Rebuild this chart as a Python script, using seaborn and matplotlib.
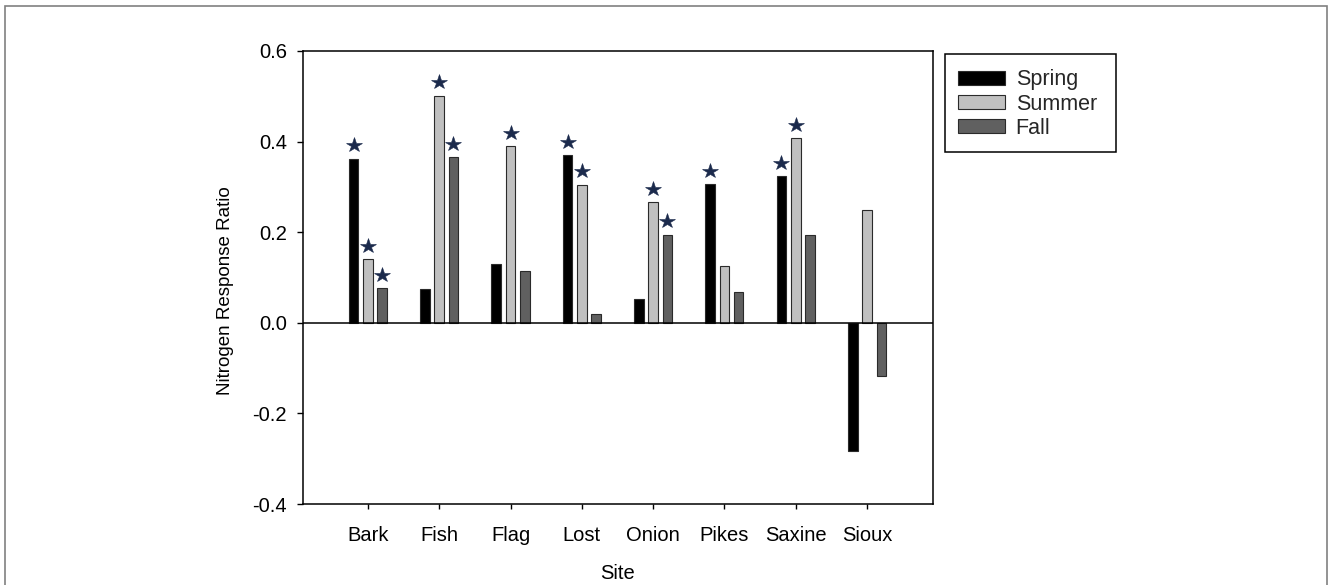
import matplotlib
matplotlib.use("Agg")
import matplotlib.pyplot as plt
import matplotlib.patches as mpatches
import numpy as np
import pandas as pd
import seaborn as sns

# ---- data ----
sites = ["Bark", "Fish", "Flag", "Lost", "Onion", "Pikes", "Saxine", "Sioux"]
seasons = ["Spring", "Summer", "Fall"]
spring = [0.362, 0.074, 0.129, 0.370, 0.052, 0.306, 0.323, -0.282]
summer = [0.140, 0.501, 0.390, 0.304, 0.266, 0.126, 0.407, 0.249]
fall = [0.076, 0.365, 0.114, 0.020, 0.194, 0.068, 0.193, -0.117]
sig_spring = [True, False, False, True, False, True, True, False]
sig_summer = [True, True, True, True, True, False, True, False]
sig_fall = [True, True, False, False, True, False, False, False]
yticks = [-0.4, -0.2, 0.0, 0.2, 0.4, 0.6]

season_colors = {"Spring": "#000000", "Summer": "#c0c0c0", "Fall": "#606060"}

df = pd.DataFrame({
    "Site": sites * 3,
    "Season": ["Spring"] * len(sites) + ["Summer"] * len(sites) + ["Fall"] * len(sites),
    "Value": spring + summer + fall,
})
sig = {"Spring": sig_spring, "Summer": sig_summer, "Fall": sig_fall}

sns.set_style("ticks")
plt.rcParams["font.family"] = ["Liberation Sans", "DejaVu Sans"]

W, H = 1328, 585
fig = plt.figure(figsize=(W / 100, H / 100), dpi=100)
ax = fig.add_axes([303 / W, 1 - 504 / H, 630 / W, 453 / H])

sns.barplot(data=df, x="Site", y="Value", hue="Season", hue_order=seasons,
            order=sites, palette=season_colors, width=0.6, gap=0.33,
            edgecolor="#2a2a2a", linewidth=0.8, errorbar=None, ax=ax)

ax.axhline(0, color="black", lw=1.1, zorder=1)

# significance stars
star_off = 0.03
for container, season in zip(ax.containers, seasons):
    for bar, flag in zip(container, sig[season]):
        if flag:
            cx = bar.get_x() + bar.get_width() / 2
            top = bar.get_y() + bar.get_height()
            ax.plot(cx, top + star_off, marker="*", markersize=11.5,
                    color="#1b2a4c", markeredgecolor="#1b2a4c",
                    markeredgewidth=0.4, linestyle="none", zorder=5)

ax.set_xlim(-0.91, 7.925)
ax.set_ylim(-0.4, 0.6)
ax.set_yticks(yticks)
ax.set_yticklabels([f"{v:.1f}" for v in yticks])

for s in ax.spines.values():
    s.set_visible(True)
    s.set_color("black")
    s.set_linewidth(1.1)

ax.tick_params(axis="x", direction="out", length=3.6, width=1, pad=12.5,
               labelsize=14.5, colors="black", bottom=True)
ax.tick_params(axis="y", direction="out", length=4.3, width=1, pad=7.2,
               labelsize=14.5, colors="black", left=True)

ax.set_xlabel("Site", fontsize=14.5, color="black")
ax.set_ylabel("Nitrogen Response Ratio", fontsize=13.5, color="black")
ax.xaxis.set_label_coords(0.5, -0.132)
ax.yaxis.set_label_coords(-0.1095, 0.47)

handles, labels = ax.get_legend_handles_labels()
leg = ax.legend(handles, labels, loc="upper left",
                bbox_to_anchor=(957.5 / W, 1 - 69.5 / H),
                bbox_transform=fig.transFigure, borderaxespad=0,
                fontsize=15.5, frameon=False, borderpad=0,
                handlelength=2.2, handleheight=0.6, handletextpad=0.5,
                labelspacing=0.14, title=None)

# legend frame
fig.patches.append(mpatches.Rectangle((945 / W, 1 - 152 / H), (1115.7 - 945) / W,
                                      (152 - 54) / H, transform=fig.transFigure,
                                      fill=False, edgecolor="black", lw=1.1,
                                      figure=fig))

# outer figure border
fig.patches.append(mpatches.Rectangle((4.5 / W, -0.02), (1326.5 - 4.5) / W,
                                      1.02 - 5.5 / H, transform=fig.transFigure,
                                      fill=False, edgecolor="#808080", lw=1.2,
                                      figure=fig))

fig.savefig("out.png", dpi=100)
